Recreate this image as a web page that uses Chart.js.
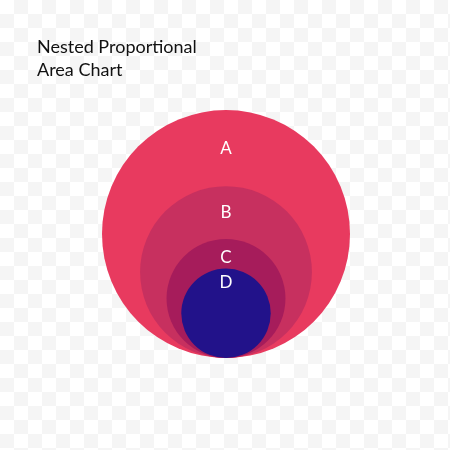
<!DOCTYPE html>
<html>
<head>
<meta charset="utf-8">
<script src="https://cdn.jsdelivr.net/npm/chart.js@4"></script>
<style>
  html, body { margin: 0; padding: 0; }
  body {
    width: 450px; height: 450px; position: relative; overflow: hidden;
    background-color: #fff;
    background-image:
      linear-gradient(45deg, #f5f5f5 25%, transparent 25%, transparent 75%, #f5f5f5 75%),
      linear-gradient(45deg, #f5f5f5 25%, transparent 25%, transparent 75%, #f5f5f5 75%);
    background-size: 28px 28px;
    background-position: 0 0, 14px 14px;
  }
  #title {
    position: absolute; left: 37px; top: 35px;
    font-family: Lato, 'Open Sans', sans-serif; font-size: 18px; line-height: 23px; color: #111;
  }
  #wrap { position: absolute; left: 0; top: 0; width: 450px; height: 450px; }
</style>
</head>
<body>
<div id="wrap"><canvas id="chart"></canvas></div>
<div id="title">Nested Proportional<br>Area Chart</div>
<script>
// data
const categories = ['A', 'B', 'C', 'D'];
const values = [100, 48, 23, 13];
const colors = ['#e83a5f', '#c7305f', '#a61c5b', '#22128a'];

// radius (in y-scale units) per sqrt(unit) of area
const radiusScale = 12.4;
const baseline = 92;   // y of the shared bottom
const centerX = 226;

function initChart() {
    const radii = values.map((v) => radiusScale * Math.sqrt(v));
    const points = radii.map((r) => ({ x: centerX, y: baseline + r }));

    // convert a radius in y units to pixels through the y scale
    const pxRadius = (chart, r) => {
        const y = chart.scales.y;
        return Math.abs(y.getPixelForValue(0) - y.getPixelForValue(r));
    };

    const labelPlugin = {
        id: 'circleLabels',
        afterDatasetsDraw(chart) {
            const ctx = chart.ctx;
            const meta = chart.getDatasetMeta(0);
            ctx.save();
            ctx.fillStyle = '#fff';
            ctx.font = '17px Lato, "Open Sans", sans-serif';
            ctx.textAlign = 'center';
            ctx.textBaseline = 'middle';
            meta.data.forEach((el, i) => {
                const r = pxRadius(chart, radii[i]);
                ctx.fillText(categories[i], el.x, el.y - r * 0.69);
            });
            ctx.restore();
        },
    };

    new Chart(document.getElementById('chart'), {
        type: 'scatter',
        data: {
            labels: categories,
            datasets: [{
                data: points,
                backgroundColor: colors,
                borderWidth: 0,
                clip: false,
                pointRadius: (c) => pxRadius(c.chart, radii[c.dataIndex] || 0),
                pointHoverRadius: (c) => pxRadius(c.chart, radii[c.dataIndex] || 0),
            }],
        },
        options: {
            responsive: true,
            maintainAspectRatio: false,
            animation: false,
            layout: { padding: 0 },
            plugins: { legend: { display: false }, tooltip: { enabled: false } },
            events: [],
            scales: {
                x: { display: false, min: 0, max: 450 },
                y: { display: false, min: 0, max: 450 },
            },
        },
        plugins: [labelPlugin],
    });
}

initChart();
</script>
</body>
</html>
